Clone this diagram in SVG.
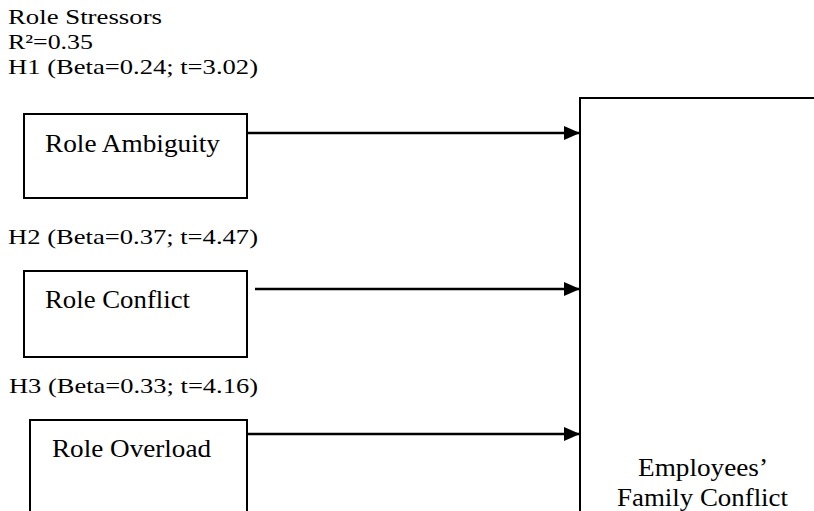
<svg xmlns="http://www.w3.org/2000/svg" width="814" height="511" viewBox="0 0 814 511">
<style>
  .lbl { font-family: "Liberation Serif", "Times New Roman", serif; font-size: 22px; fill: #000; }
  .node-text { font-family: "Liberation Serif", "DejaVu Serif", serif; font-size: 26px; fill: #000; }
  .box { fill: #fff; stroke: #000; stroke-width: 2; }
  .conn { stroke: #000; stroke-width: 2.5; fill: none; marker-end: url(#arrow); }
</style>
<defs>
  <marker id="arrow" markerUnits="userSpaceOnUse" markerWidth="16" markerHeight="16" viewBox="0 0 16 16" refX="16" refY="8" orient="auto">
    <path d="M0,1 L16,8 L0,15 Z" fill="#000"/>
  </marker>
</defs>
<rect width="814" height="511" fill="#fff"/>
<g id="labels">
  <text class="lbl" x="8" y="24" textLength="154" lengthAdjust="spacingAndGlyphs">Role Stressors</text>
  <text class="lbl" x="8" y="49" textLength="85" lengthAdjust="spacingAndGlyphs">R²=0.35</text>
  <text class="lbl" x="8" y="74" textLength="250" lengthAdjust="spacingAndGlyphs">H1 (Beta=0.24; t=3.02)</text>
  <text class="lbl" x="8" y="244" textLength="250" lengthAdjust="spacingAndGlyphs">H2 (Beta=0.37; t=4.47)</text>
  <text class="lbl" x="9" y="393" textLength="249" lengthAdjust="spacingAndGlyphs">H3 (Beta=0.33; t=4.16)</text>
</g>
<g id="node-role-ambiguity">
  <rect class="box" x="24" y="114" width="223" height="84"/>
  <text class="node-text" x="45" y="152" textLength="175" lengthAdjust="spacingAndGlyphs">Role Ambiguity</text>
</g>
<g id="node-role-conflict">
  <rect class="box" x="24" y="271" width="223" height="86"/>
  <text class="node-text" x="45" y="308" textLength="145" lengthAdjust="spacingAndGlyphs">Role Conflict</text>
</g>
<g id="node-role-overload">
  <rect class="box" x="30" y="420" width="217" height="120"/>
  <text class="node-text" x="52" y="457" textLength="159" lengthAdjust="spacingAndGlyphs">Role Overload</text>
</g>
<g id="node-family-conflict">
  <rect class="box" x="580" y="98" width="260" height="440"/>
  <text class="node-text" x="638" y="476" textLength="130" lengthAdjust="spacingAndGlyphs">Employees’</text>
  <text class="node-text" x="617" y="506" textLength="171" lengthAdjust="spacingAndGlyphs">Family Conflict</text>
</g>
<g id="connectors">
  <line class="conn" x1="248" y1="133" x2="580" y2="133"/>
  <line class="conn" x1="255" y1="289" x2="580" y2="289"/>
  <line class="conn" x1="248" y1="434" x2="580" y2="434"/>
</g>
</svg>
